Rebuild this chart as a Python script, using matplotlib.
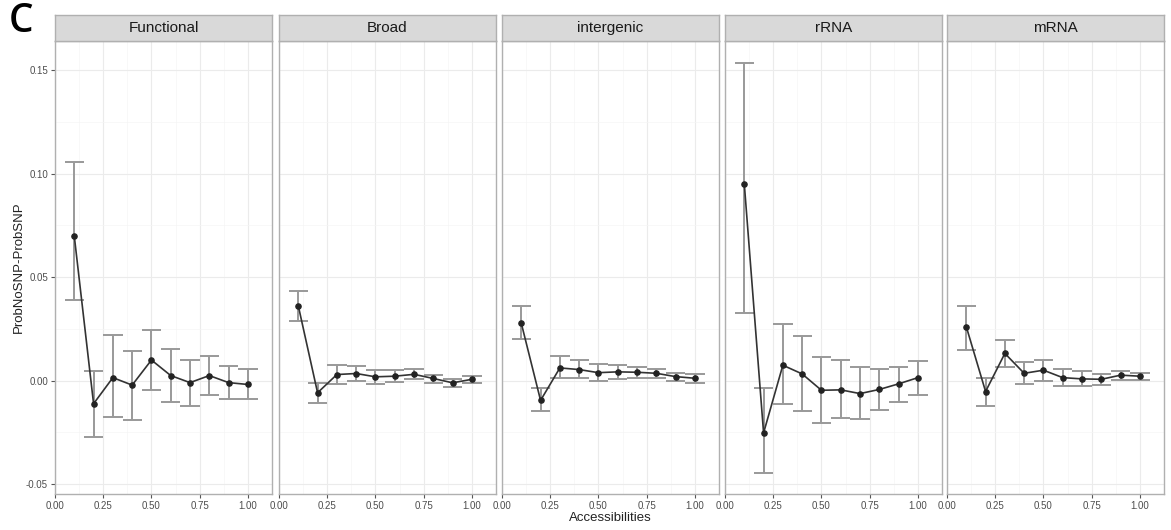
import numpy as np
import matplotlib
matplotlib.use("Agg")
import matplotlib.pyplot as plt

plt.rcParams['font.family'] = ['Liberation Sans', 'DejaVu Sans']

acc = [0.1, 0.2, 0.3, 0.4, 0.5, 0.6, 0.7, 0.8, 0.9, 1.0]
panels = ['Functional', 'Broad', 'intergenic', 'rRNA', 'mRNA']

functional = [0.0697, -0.0112, 0.0014, -0.0022, 0.0099, 0.0024, -0.0010, 0.0024, -0.0010, -0.0019]
functional_hi = [0.1056, 0.0048, 0.0220, 0.0143, 0.0245, 0.0152, 0.0099, 0.0117, 0.0070, 0.0056]
functional_lo = [0.0388, -0.0272, -0.0176, -0.0189, -0.0048, -0.0104, -0.0122, -0.0071, -0.0087, -0.0090]

broad = [0.0361, -0.0059, 0.0029, 0.0034, 0.0018, 0.0021, 0.0030, 0.0010, -0.0011, 0.0006]
broad_hi = [0.0431, -0.0011, 0.0074, 0.0071, 0.0050, 0.0051, 0.0054, 0.0029, 0.0006, 0.0023]
broad_lo = [0.0287, -0.0109, -0.0018, -0.0003, -0.0016, -0.0008, 0.0006, -0.0011, -0.0029, -0.0010]

intergenic = [0.0277, -0.0096, 0.0061, 0.0053, 0.0038, 0.0042, 0.0040, 0.0035, 0.0019, 0.0011]
intergenic_hi = [0.0361, -0.0038, 0.0120, 0.0099, 0.0080, 0.0077, 0.0067, 0.0058, 0.0035, 0.0032]
intergenic_lo = [0.0199, -0.0149, 0.0010, 0.0010, -0.0003, 0.0006, 0.0010, 0.0010, 0.0000, -0.0010]

rrna = [0.0950, -0.0253, 0.0074, 0.0032, -0.0047, -0.0045, -0.0063, -0.0043, -0.0016, 0.0014]
rrna_hi = [0.1535, -0.0038, 0.0272, 0.0215, 0.0112, 0.0099, 0.0064, 0.0054, 0.0067, 0.0093]
rrna_lo = [0.0328, -0.0447, -0.0111, -0.0146, -0.0204, -0.0181, -0.0186, -0.0143, -0.0103, -0.0069]

mrna = [0.0260, -0.0053, 0.0131, 0.0035, 0.0050, 0.0014, 0.0008, 0.0006, 0.0026, 0.0021]
mrna_hi = [0.0362, 0.0013, 0.0197, 0.0091, 0.0098, 0.0054, 0.0045, 0.0034, 0.0047, 0.0038]
mrna_lo = [0.0149, -0.0122, 0.0066, -0.0019, 0.0000, -0.0024, -0.0026, -0.0022, 0.0005, 0.0003]

series = [(functional, functional_lo, functional_hi),
          (broad, broad_lo, broad_hi),
          (intergenic, intergenic_lo, intergenic_hi),
          (rrna, rrna_lo, rrna_hi),
          (mrna, mrna_lo, mrna_hi)]

W, H = 1171, 530
fig = plt.figure(figsize=(W / 100, H / 100), dpi=100)

lefts = [55, 279, 502, 725, 947]
pw = 217
top, bot = 41, 494
strip_top = 15

for i, (name, (y, lo, hi)) in enumerate(zip(panels, series)):
    ax = fig.add_axes([lefts[i] / W, (H - bot) / H, pw / W, (bot - top) / H])
    ax.set_facecolor('white')
    ax.set_xlim(0, 1.1)
    ax.set_ylim(-0.0548, 0.164)
    ax.set_xticks([0, 0.25, 0.5, 0.75, 1.0])
    ax.set_xticklabels(['0.00', '0.25', '0.50', '0.75', '1.00'])
    ax.set_xticks([0.125, 0.375, 0.625, 0.875, 1.125], minor=True)
    ax.set_yticks([-0.05, 0, 0.05, 0.10, 0.15])
    ax.set_yticks([-0.025, 0.025, 0.075, 0.125], minor=True)
    ax.set_yticklabels(['-0.05', '0.00', '0.05', '0.10', '0.15'])
    ax.grid(which='major', color='#ebebeb', lw=0.8)
    ax.grid(which='minor', color='#f5f5f5', lw=0.5)
    ax.set_axisbelow(True)
    ax.tick_params(which='major', length=3, width=0.8, color='#555555',
                   labelsize=7, labelcolor='#4d4d4d', pad=2)
    ax.tick_params(which='minor', length=0)
    if i > 0:
        ax.tick_params(axis='y', left=False, labelleft=False)
    for s in ax.spines.values():
        s.set_color('#b0b0b0')
        s.set_linewidth(1.0)

    # error bars
    ax.vlines(acc, lo, hi, color='#999999', lw=1.4, zorder=2)
    ax.hlines(lo, np.array(acc) - 0.05, np.array(acc) + 0.05, color='#999999', lw=1.4, zorder=2)
    ax.hlines(hi, np.array(acc) - 0.05, np.array(acc) + 0.05, color='#999999', lw=1.4, zorder=2)
    ax.plot(acc, y, color='#333333', lw=1.2, zorder=3)
    ax.scatter(acc, y, s=14, color='#222222', zorder=4)

    sax = fig.add_axes([lefts[i] / W, (H - top) / H, pw / W, (top - strip_top) / H])
    sax.set_facecolor('#d9d9d9')
    sax.set_xticks([])
    sax.set_yticks([])
    for s in sax.spines.values():
        s.set_color('#b0b0b0')
        s.set_linewidth(1.0)
    sax.text(0.5, 0.5, name, ha='center', va='center', fontsize=11,
             color='#1a1a1a', transform=sax.transAxes)

fig.text(610 / W, 1 - 518 / H, 'Accessibilities', ha='center', va='center',
         fontsize=9.5, color='#222222')
fig.text(19 / W, 1 - 267 / H, 'ProbNoSNP-ProbSNP', ha='center', va='center',
         rotation=90, fontsize=9.5, color='#222222')
fig.text(9 / W, 1 - 22 / H, 'C', ha='left', va='center', fontsize=28,
         family=['Open Sans', 'DejaVu Sans'], fontweight='semibold', color='black')

fig.savefig('out.png', dpi=100)
